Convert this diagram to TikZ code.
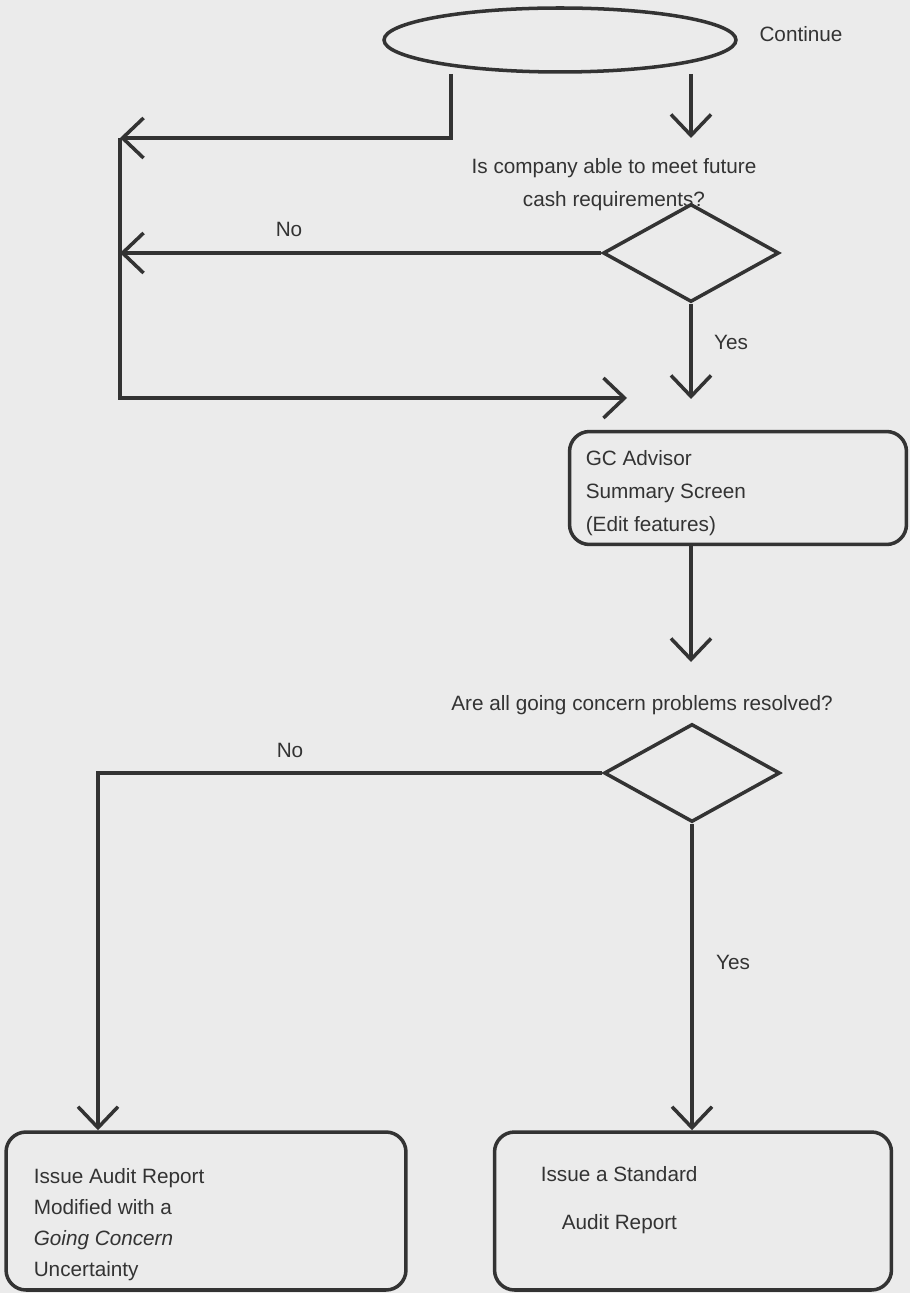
\documentclass[tikz,border=0pt]{standalone}
\usepackage{fontspec}
\setmainfont{Liberation Sans}
\usetikzlibrary{shapes.geometric,arrows.meta}
\definecolor{ink}{gray}{0.2}
\definecolor{paper}{gray}{0.92}

\begin{document}
\begin{tikzpicture}[x=0.02cm, y=-0.02cm, ink, line width=2pt,
    every node/.style={font=\fontsize{11.8}{18.6}\selectfont},
    start/.style={ellipse, draw, line width=2pt, minimum width=7.04cm, minimum height=1.28cm, inner sep=0pt},
    decision/.style={diamond, draw, line width=2pt, minimum width=3.52cm, minimum height=1.96cm, inner sep=0pt},
    card/.style={rectangle, draw, line width=2pt, rounded corners=0.4cm, inner sep=0pt},
    txt/.style={inner sep=0pt, align=left, anchor=north west},
    flow/.style={line width=2pt, -{Straight Barb[length=0.42cm,width=0.8cm]}}]
    \fill[paper] (0,0) rectangle (910,1293);

    % start of this part of the chart
    \node[start] (cont) at (560,40) {};
    \node[anchor=base] (contlbl) at (801,42) {Continue};
    \coordinate (c1) at (451,74);
    \coordinate (c2) at (691,74);
    \coordinate (a1) at (691,138);
    \coordinate (l1) at (120,138);

    % first question
    \node[inner sep=0pt, anchor=north, align=center] (q1) at (614,157) {Is company able to meet future\\cash requirements?};
    \node[decision] (d1) at (691,253) {};
    \coordinate (l2) at (120,253);
    \coordinate (a2) at (691,399);
    \coordinate (a3) at (627,398);
    \node[anchor=base] (no1) at (289,237) {No};
    \node[anchor=base] (yes1) at (731,350) {Yes};

    % summary screen
    \node[card, minimum width=6.74cm, minimum height=2.26cm] (gc) at (738,488) {};
    \node[txt] (gctxt) at (584,449) {GC Advisor\\Summary Screen\\(Edit features)};
    \coordinate (a4) at (691,662);

    % second question
    \node[anchor=base] (q2) at (642,710) {Are all going concern problems resolved?};
    \node[decision] (d2) at (692,773) {};
    \coordinate (l4) at (98,773);
    \node[anchor=base] (no2) at (290,757) {No};
    \node[anchor=base] (yes2) at (733,969) {Yes};

    % reports
    \node[card, minimum width=8cm, minimum height=3.16cm] (gcrep) at (206,1211) {};
    \node[txt, font=\fontsize{11.8}{17.6}\selectfont] (gcreptxt) at (32,1167) {Issue Audit Report\\Modified with a\\\textit{Going Concern}\\Uncertainty};
    \node[card, minimum width=7.94cm, minimum height=3.16cm] (stdrep) at (693,1211) {};
    \node[txt] (stdtxt1) at (539,1165) {Issue a Standard};
    \node[txt] (stdtxt2) at (560,1213) {Audit Report};

    % connectors
    \draw[flow] (c1) |- (l1);
    \draw[flow] (c2) -- (a1);
    \draw[flow] (d1.west) -- (l2);
    \draw[flow] (d1.south) -- (a2);
    \draw[flow] (l1) |- (a3);
    \draw[flow] (gc.south -| d1) -- (a4);
    \draw[flow] (d2.west) -| (l4 |- gcrep.north);
    \draw[flow] (d2.south) -- (d2.south |- stdrep.north);
\end{tikzpicture}
\end{document}
